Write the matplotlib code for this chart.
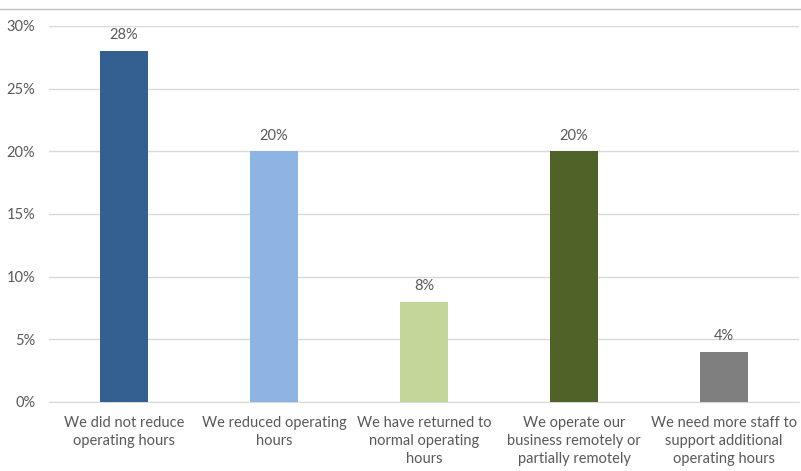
import matplotlib.pyplot as plt
from matplotlib.lines import Line2D
from matplotlib.ticker import PercentFormatter

# Data
categories = [
    "We did not reduce\noperating hours",
    "We reduced operating\nhours",
    "We have returned to\nnormal operating\nhours",
    "We operate our\nbusiness remotely or\npartially remotely",
    "We need more staff to\nsupport additional\noperating hours",
]
values = [28, 20, 8, 20, 4]
colors = ["#335F91", "#8EB4E3", "#C4D79B", "#4F6228", "#7F7F7F"]

plt.rcParams["font.family"] = ["Lato", "DejaVu Sans"]
text_color = "#595959"

fig = plt.figure(figsize=(8.01, 4.71), dpi=100)
ax = fig.add_axes([0.0612, 0.1465, 0.9363, 0.7983])

x = range(len(categories))
bars = ax.bar(x, values, width=0.32, color=colors, zorder=3)

for i, v in enumerate(values):
    ax.text(i, v + 0.7, f"{v}%", ha="center", va="bottom",
            fontsize=10.5, color=text_color)

ax.set_xlim(-0.5, len(categories) - 0.5)
ax.set_ylim(0, 30)
ax.set_yticks(range(0, 31, 5))
ax.yaxis.set_major_formatter(PercentFormatter(decimals=0))
ax.set_xticks(list(x))
ax.set_xticklabels(categories, fontsize=10.5, color=text_color, linespacing=1.38)
ax.tick_params(axis="y", labelsize=10.5, labelcolor=text_color, length=0, pad=10)
ax.tick_params(axis="x", length=0, pad=10)

ax.grid(axis="y", color="#D9D9D9", linewidth=1, zorder=0)
for side in ["top", "right", "left"]:
    ax.spines[side].set_visible(False)
ax.spines["bottom"].set_color("#D9D9D9")

# thin border line at the top of the image
fig.add_artist(Line2D([0, 1], [1 - 9 / 471, 1 - 9 / 471],
                      transform=fig.transFigure, color="#BFBFBF", linewidth=1))

fig.savefig("out.png", dpi=100)
